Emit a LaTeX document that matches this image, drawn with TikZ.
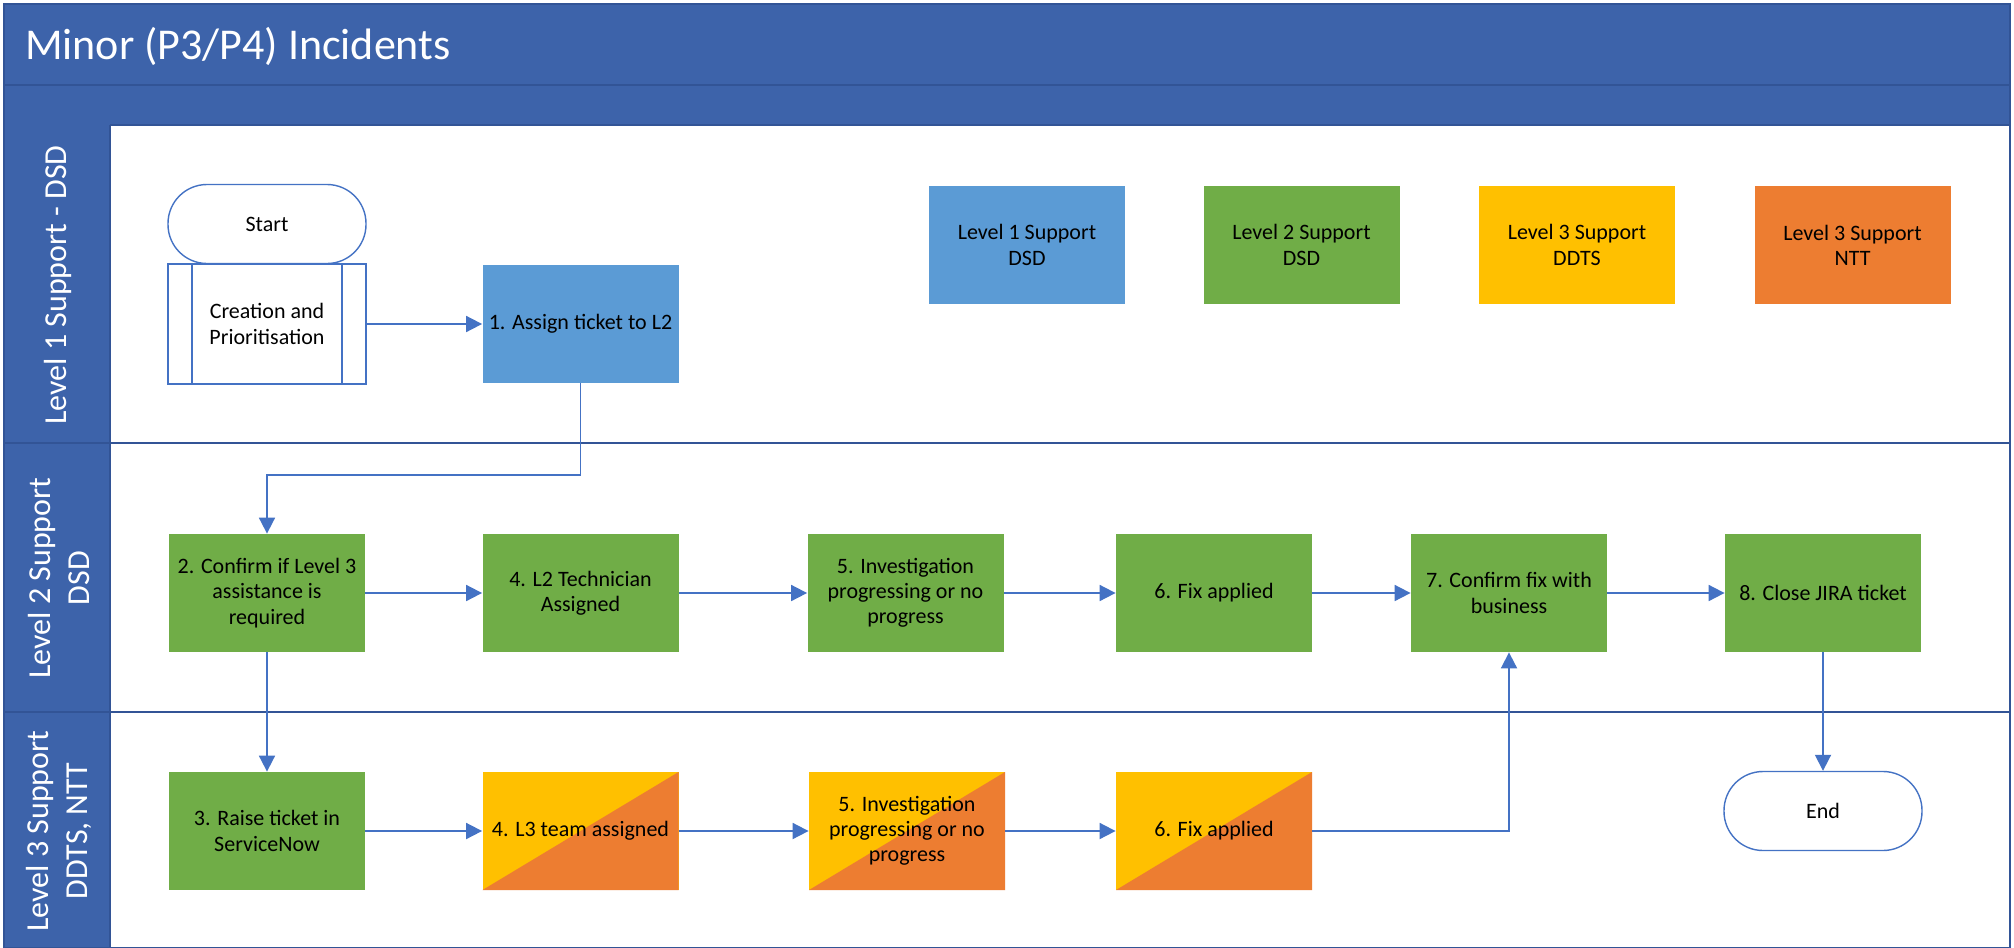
\documentclass[tikz,border=0pt]{standalone}
\usepackage{fontspec}
\setmainfont{Carlito}
\usetikzlibrary{arrows.meta,calc}
\definecolor{hdr}{RGB}{61,99,170}
\definecolor{hdrline}{RGB}{50,84,150}
\definecolor{lnk}{RGB}{68,114,196}
\definecolor{bluebox}{RGB}{91,155,213}
\definecolor{greenbox}{RGB}{112,173,71}
\definecolor{yellowbox}{RGB}{255,192,0}
\definecolor{orangebox}{RGB}{237,125,49}
\begin{document}
\begin{tikzpicture}[x=0.5pt,y=-0.5pt,
  boxtext/.style={font=\fontsize{11}{12.6}\selectfont, align=center, text=black},
  procbox/.style={boxtext, rectangle, minimum width=98pt, minimum height=59pt, inner sep=2pt},
  lonebox/.style={procbox, fill=bluebox},
  ltwobox/.style={procbox, fill=greenbox},
  lthreebox/.style={procbox, fill=yellowbox,
    path picture={\fill[orangebox] (path picture bounding box.south west) -- (path picture bounding box.north east) -- (path picture bounding box.south east) -- cycle;}},
  legyellow/.style={procbox, fill=yellowbox},
  legorange/.style={procbox, fill=orangebox},
  terminal/.style={boxtext, rectangle, rounded corners=19.5pt, draw=lnk, line width=0.7pt, fill=white, minimum width=99pt, minimum height=39.5pt},
  subproc/.style={boxtext, rectangle, draw=lnk, line width=0.7pt, fill=white, minimum width=99pt, minimum height=60pt,
    path picture={\draw[lnk, line width=0.7pt] ([xshift=12pt]path picture bounding box.south west) -- ([xshift=12pt]path picture bounding box.north west);
                  \draw[lnk, line width=0.7pt] ([xshift=-12pt]path picture bounding box.south east) -- ([xshift=-12pt]path picture bounding box.north east);}},
  lanelabel/.style={rotate=90, text=white, font=\fontsize{16}{19.5}\selectfont, align=center},
  arr/.style={draw=lnk, line width=0.9pt, -{Triangle[length=8pt,width=8pt]}},
  sep/.style={draw=hdrline, line width=1.1pt}
]
\useasboundingbox (0,0) rectangle (2014,948);
% pool frame
\fill[white] (4,4) rectangle (2010,948);
\fill[hdr] (4,4) rectangle (2010,125);
\fill[hdr] (4,125) rectangle (110,948);
\draw[sep] (4,85) -- (2010,85);
\draw[sep] (110,125) -- (2010,125);
\draw[sep] (4,443) -- (2010,443);
\draw[sep] (4,712) -- (2010,712);
\draw[sep] (110,125) -- (110,948);
\draw[sep] (2010,4) -- (2010,948);
\draw[hdrline, line width=0.8pt] (4,4) rectangle (2010,948);
\node[anchor=west, text=white, font=\fontsize{22}{26}\selectfont] (title) at (18,46) {Minor (P3/P4) Incidents};
% lane labels
\node[lanelabel] (lane1) at (58,285) {Level 1 Support - DSD};
\node[lanelabel] (lane2) at (59,578) {Level 2 Support\\DSD};
\node[lanelabel] (lane3) at (59,831) {Level 3 Support\\DDTS, NTT};
% lane 1
\node[terminal] (start) at (267,224) {Start};
\node[subproc] (create) at (267,324) {Creation and\\Prioritisation};
\node[lonebox] (a1) at (580.5,324) {1. Assign ticket to L2};
\node[lonebox] (leg1) at (1027,245) {Level 1 Support\\DSD};
\node[ltwobox] (leg2) at (1301.5,245) {Level 2 Support\\DSD};
\node[legyellow] (leg3) at (1577,245) {Level 3 Support\\DDTS};
\node[legorange] (leg4) at (1852.5,245) {Level 3 Support\\NTT};
% lane 2
\node[ltwobox] (b2) at (267,593) {2. Confirm if Level 3\\assistance is\\required};
\node[ltwobox] (b4) at (580.5,593) {4. L2 Technician\\Assigned};
\node[ltwobox] (b5) at (905.5,593) {5. Investigation\\progressing or no\\progress};
\node[ltwobox] (b6) at (1214,593) {6. Fix applied};
\node[ltwobox] (b7) at (1509,593) {7. Confirm fix with\\business};
\node[ltwobox] (b8) at (1823,593) {8. Close JIRA ticket};
% lane 3
\node[ltwobox] (c3) at (267,831) {3. Raise ticket in\\ServiceNow};
\node[lthreebox] (c4) at (580.5,831) {4. L3 team assigned};
\node[lthreebox] (c5) at (907,831) {5. Investigation\\progressing or no\\progress};
\node[lthreebox] (c6) at (1214,831) {6. Fix applied};
\node[terminal] (end) at (1823,811) {End};
% connectors
\coordinate (bend1) at (267,475);
\draw[arr] (create.east) -- (a1.west);
\draw[arr] (a1.south) |- (bend1) -- (b2.north);
\draw[arr] (b2.east) -- (b4.west);
\draw[arr] (b4.east) -- (b5.west);
\draw[arr] (b5.east) -- (b6.west);
\draw[arr] (b6.east) -- (b7.west);
\draw[arr] (b7.east) -- (b8.west);
\draw[arr] (b2.south) -- (c3.north);
\draw[arr] (c3.east) -- (c4.west);
\draw[arr] (c4.east) -- (c5.west);
\draw[arr] (c5.east) -- (c6.west);
\draw[arr] (c6.east) -| (b7.south);
\draw[arr] (b8.south) -- (end.north);
\end{tikzpicture}
\end{document}
